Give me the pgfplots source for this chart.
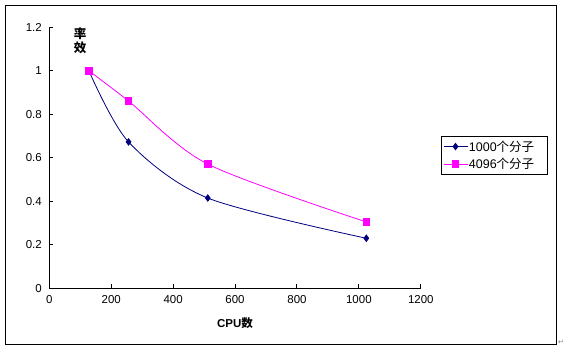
\documentclass[border=0pt]{standalone}
\usepackage{pgfplots}
\pgfplotsset{compat=1.18}
\usepackage{fontspec}
\setmainfont{Liberation Sans}
\newfontfamily\cjk{Noto Sans CJK SC}
\newfontfamily\dejavu{DejaVu Sans}
\definecolor{navyc}{HTML}{000080}
\definecolor{magc}{HTML}{FF00FF}
\begin{document}
\begin{tikzpicture}
\useasboundingbox (0,0) rectangle (570bp,352bp);
\fill[white] (0,0) rectangle (570bp,352bp);
\draw[line width=1bp, black] (5.3bp,7.7bp) rectangle (556.5bp,346.7bp);
\begin{axis}[
  at={(49.3bp,63.7bp)}, anchor=south west,
  scale only axis, width=371.5bp, height=261bp,
  xmin=0, xmax=1200, ymin=0, ymax=1.2,
  xtick={0,200,...,1200}, ytick={0,0.2,0.4,0.6,0.8,1,1.2},
  axis x line*=bottom, axis y line*=left,
  axis line style={line width=1bp, black, -},
  tick style={line width=1bp, black},
  major tick length=4bp,
  tick align=inside,
  /pgf/number format/assume math mode=true,
  /pgf/number format/1000 sep={},
  ticklabel style={font=\fontsize{11.5bp}{13bp}\selectfont},
  xticklabel style={yshift=-4bp},
  yticklabel style={xshift=-4bp},
  clip=false,
  legend style={at={(1.0536,0.5847)}, anchor=north west, draw=black, line width=0.8bp,
    font=\fontsize{12.5bp}{14bp}\selectfont, inner xsep=2bp, inner ysep=2.5bp,
    row sep=1.5bp, legend cell align=left,
    nodes={inner xsep=1bp}},
  legend image code/.code={\draw[#1] (2bp,0bp) -- (26bp,0bp); \draw[#1, mark repeat=1] plot coordinates {(14bp,0bp)};},
]
\addplot[navyc, line width=0.8bp, smooth, tension=0.5, mark=diamond*, mark size=3.2bp, mark options={solid, fill=navyc, draw=navyc}]
  coordinates {(128,1) (256,0.673) (512,0.415) (1024,0.23)};
\addlegendentry{1000{\cjk 个分子}\hspace*{10bp}}
\addplot[magc, line width=0.8bp, smooth, tension=0.5, mark=square*, mark size=3.3bp, mark options={solid, fill=magc, draw=magc}]
  coordinates {(128,1) (256,0.861) (512,0.571) (1024,0.305)};
\addlegendentry{4096{\cjk 个分子}\hspace*{10bp}}
\end{axis}
\node[font=\cjk\bfseries\fontsize{12.5bp}{13.5bp}\selectfont, align=center, inner sep=0pt] at (80bp,311bp) {率\\效};
\node[font=\bfseries\fontsize{11.5bp}{13bp}\selectfont, inner sep=0pt] at (235bp,29.3bp) {CPU{\cjk 数}};
\node[font=\dejavu\fontsize{7bp}{8bp}\selectfont, text=gray, inner sep=0pt] at (561bp,10bp) {↵};
\end{tikzpicture}
\end{document}
